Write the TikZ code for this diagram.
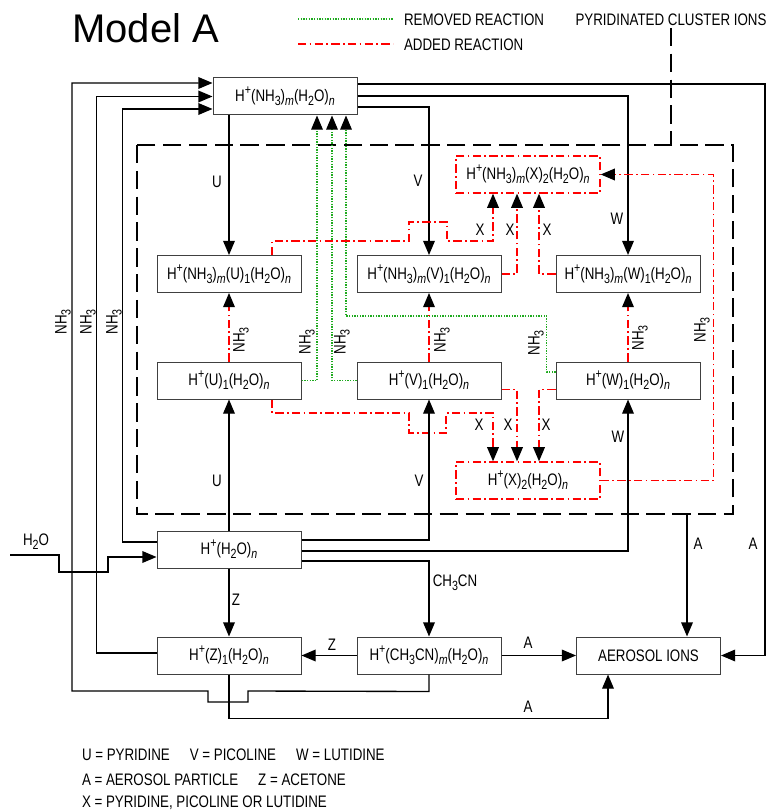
\documentclass[tikz,border=0pt]{standalone}
\usepackage{fontspec}
\setmainfont{Liberation Sans}
\newfontfamily\narrowsf{Liberation Sans}[FakeStretch=0.8]
\usetikzlibrary{arrows.meta, calc}
\definecolor{rxgreen}{HTML}{1FAA1F}
\definecolor{rxred}{HTML}{FF0000}
\definecolor{boxgrey}{HTML}{404040}
\newcommand{\ssub}[1]{\raisebox{-0.45ex}{\fontsize{8}{8}\selectfont #1}}
\newcommand{\ssup}[1]{\raisebox{0.8ex}{\fontsize{8}{8}\selectfont #1}}
\newcommand{\Hp}{H\ssup{+}}
\newcommand{\nhm}{(NH\ssub{3})\ssub{\textit{m}}}
\newcommand{\wn}{(H\ssub{2}O)\ssub{\textit{n}}}
\newcommand{\nhthree}{NH\ssub{3}}
\tikzset{
  txt/.style={font=\narrowsf\fontsize{10}{12}\selectfont, inner sep=1pt},
  vtxt/.style={txt, rotate=90},
  ionbox/.style={draw=boxgrey, line width=0.6pt, minimum width=86.4pt,
    minimum height=22.2pt, inner sep=1pt, font=\narrowsf\fontsize{10}{12}\selectfont},
  flow/.style={line width=0.8pt},
  removed/.style={draw=rxgreen, line width=0.7pt, dash pattern=on 0.8pt off 0.8pt},
  added/.style={draw=rxred, line width=0.8pt, dash pattern=on 5pt off 2pt on 1pt off 2pt},
  newbox/.style={ionbox, added},
  cluster/.style={line width=1.4pt, dash pattern=on 11pt off 4.5pt},
}

\begin{document}
\begin{tikzpicture}[x=0.6pt, y=-0.6pt, >={Triangle[length=8.5pt,width=7pt,color=black]}]
  \useasboundingbox (0,0) rectangle (769,812);

  % title and key
  \node[font=\fontsize{24}{28}\selectfont, anchor=west, inner sep=0pt] (title) at (72,28) {Model A};
  \node[txt, anchor=west] (keyrem) at (402,20) {REMOVED REACTION};
  \node[txt, anchor=west] (keyadd) at (402,45) {ADDED REACTION};
  \draw[removed] ($(keyrem.west)+(-104,-1)$) -- ++(95,0);
  \draw[added] ($(keyadd.west)+(-104,-1)$) -- ++(95,0);
  \node[txt] (keypyr) at (671,20) {PYRIDINATED CLUSTER IONS};

  % pyridinated cluster region
  \coordinate (pyrNW) at (137,145);
  \coordinate (pyrSE) at (733,514);
  \draw[cluster] (pyrNW) rectangle (pyrSE);
  \draw[cluster] (keypyr.south) -- (keypyr.south |- pyrNW);

  % ions
  \node[ionbox] (nhH) at (285,96.5) {\Hp\nhm\wn};
  \node[ionbox] (nhU) at (229,274) {\Hp\nhm(U)\ssub{1}\wn};
  \node[ionbox] (nhV) at (429,274) {\Hp\nhm(V)\ssub{1}\wn};
  \node[ionbox] (nhW) at (628,274) {\Hp\nhm(W)\ssub{1}\wn};
  \node[ionbox] (hU) at (229,380.5) {\Hp(U)\ssub{1}\wn};
  \node[ionbox] (hV) at (429,380.5) {\Hp(V)\ssub{1}\wn};
  \node[ionbox] (hW) at (628,380.5) {\Hp(W)\ssub{1}\wn};
  \node[newbox] (nhX) at (528,174.5) {\Hp\nhm(X)\ssub{2}\wn};
  \node[newbox] (hX) at (528,480.5) {\Hp(X)\ssub{2}\wn};
  \node[ionbox] (hyd) at (229,549.5) {\Hp\wn};
  \node[ionbox] (ace) at (229,655.5) {\Hp(Z)\ssub{1}\wn};
  \node[ionbox] (acn) at (429,655.5) {\Hp(CH\ssub{3}CN)\ssub{\textit{m}}\wn};
  \node[ionbox] (aer) at (648.5,655.5) {AEROSOL IONS};

  % NH3 back to the ammonia clusters
  \draw[flow, ->] (acn.south) -- ++(0,17) -- (248,691) -- (248,702) -- (208,702)
    -- (208,691) -- (72,691) |- ($(nhH.west)+(0,-13.5)$);
  \draw[flow, ->] ($(ace.west)+(0,-2.5)$) -| ($(nhH.west)+(-116,0)$) -- (nhH.west);
  \draw[flow, ->] ($(hyd.west)+(0,-7.5)$) -| ($(nhH.west)+(-90,12.5)$) -- ($(nhH.west)+(0,12.5)$);
  \node[vtxt] (lnh1) at (63,322) {\nhthree};
  \node[vtxt] (lnh2) at (88,322) {\nhthree};
  \node[vtxt] (lnh3) at (114,322) {\nhthree};

  % out of H+(NH3)m(H2O)n
  \draw[flow, ->] ($(nhH.east)+(0,-12.5)$) -| ($(aer.east)+(44,0)$) -- (aer.east);
  \draw[flow, ->] ($(nhH.east)+(0,-0.5)$) -| (nhW.north);
  \draw[flow, ->] ($(nhH.east)+(0,10.5)$) -| (nhV.north);
  \draw[flow, ->] (nhH.south -| nhU.north) -- (nhU.north);
  \node[txt] (lUa) at (217,182) {U};
  \node[txt] (lVa) at (418,181) {V};
  \node[txt] (lWa) at (617,219) {W};
  \node[txt] (lAr) at (753,544) {A};

  % removed reactions
  \draw[removed, ->] (hU.east) -| ($(nhH.south)+(32,0)$);
  \draw[removed, ->] (hV.west) -| ($(nhH.south)+(47,0)$);
  \draw[removed, ->] ($(hW.west)+(0,-8.5)$) -| ++(-9,-56) -| ($(nhH.south)+(61,0)$);
  \node[vtxt] (lgU) at (307,342) {\nhthree};
  \node[vtxt] (lgV) at (342,342) {\nhthree};
  \node[vtxt] (lgW) at (536,343) {\nhthree};

  % added reactions
  \draw[added, ->] (hU.north) -- (nhU.south);
  \draw[added, ->] (hV.north) -- (nhV.south);
  \draw[added, ->] (hW.north) -- (nhW.south);
  \node[vtxt] (lrU) at (241,340) {\nhthree};
  \node[vtxt] (lrV) at (442,340) {\nhthree};
  \node[vtxt] (lrW) at (640,338) {\nhthree};
  \draw[added, ->] ($(nhU.north)+(43,0)$) |- (409,241) -- (409,222) -- (447,222)
    -- (447,241) -| ($(nhX.south)+(-35,0)$);
  \draw[added, ->] (nhV.east) -| ($(nhX.south)+(-11,0)$);
  \draw[added, ->] (nhW.west) -| ($(nhX.south)+(11,0)$);
  \node[txt] (lXa) at (480,230) {X};
  \node[txt] (lXb) at (510,230) {X};
  \node[txt] (lXc) at (547,230) {X};
  \draw[added, ->] ($(hU.south)+(43,0)$) |- (409,413) -- (409,433) -- (446,433)
    -- (446,413) -| ($(hX.north)+(-35,0)$);
  \draw[added, ->] ($(hV.east)+(0,9)$) -| ($(hX.north)+(-11,0)$);
  \draw[added, ->] ($(hW.west)+(0,9)$) -| ($(hX.north)+(11,0)$);
  \node[txt] (lXd) at (479,425) {X};
  \node[txt] (lXe) at (508,425) {X};
  \node[txt] (lXf) at (546,425) {X};
  \draw[added, ->] (hX.east) -| ($(nhX.east)+(113,0)$) -- (nhX.east);
  \node[vtxt] (lrX) at (702,330) {\nhthree};

  % water feed and H+(H2O)n
  \coordinate (feed) at (10,555);
  \draw[flow, ->] (feed) -- ++(49,0) -- ++(0,17) -- ++(49,0) -- ++(0,-15) -- ($(hyd.west)+(0,7.5)$);
  \node[txt] (lh2o) at (36,542) {H\ssub{2}O};
  \draw[flow, ->] (hyd.north) -- (hU.south);
  \draw[flow, ->] ($(hyd.east)+(0,-9.5)$) -| (hV.south);
  \draw[flow, ->] ($(hyd.east)+(0,1.5)$) -| (hW.south);
  \draw[flow, ->] ($(hyd.east)+(0,11.5)$) -| (acn.north);
  \draw[flow, ->] (hyd.south) -- (ace.north);
  \node[txt] (lUb) at (217,481) {U};
  \node[txt] (lVb) at (419,481) {V};
  \node[txt] (lWb) at (618,437) {W};
  \node[txt] (lcn) at (455,583) {CH\ssub{3}CN};
  \node[txt] (lZa) at (236,600) {Z};

  % to aerosol
  \draw[flow, ->] (acn.west) -- (ace.east);
  \draw[flow, ->] (acn.east) -- (aer.west);
  \draw[flow, ->] (ace.south) -- ++(0,44) -| ($(aer.south)+(-40.5,0)$);
  \coordinate (aerin) at ($(aer.north)+(38.5,0)$);
  \draw[flow, ->] (aerin |- pyrSE) -- (aerin);
  \node[txt] (lZb) at (332,645) {Z};
  \node[txt] (lAa) at (528,643) {A};
  \node[txt] (lAb) at (528,707) {A};
  \node[txt] (lAc) at (698,544) {A};

  % key to letters
  \node[txt, anchor=west] (key1) at (80,755) {U = PYRIDINE\hspace{12pt}V = PICOLINE\hspace{12pt}W = LUTIDINE};
  \node[txt, anchor=west] (key2) at (80,780) {A = AEROSOL PARTICLE\hspace{12pt}Z = ACETONE};
  \node[txt, anchor=west] (key3) at (80,803) {X = PYRIDINE, PICOLINE OR LUTIDINE};
\end{tikzpicture}
\end{document}
